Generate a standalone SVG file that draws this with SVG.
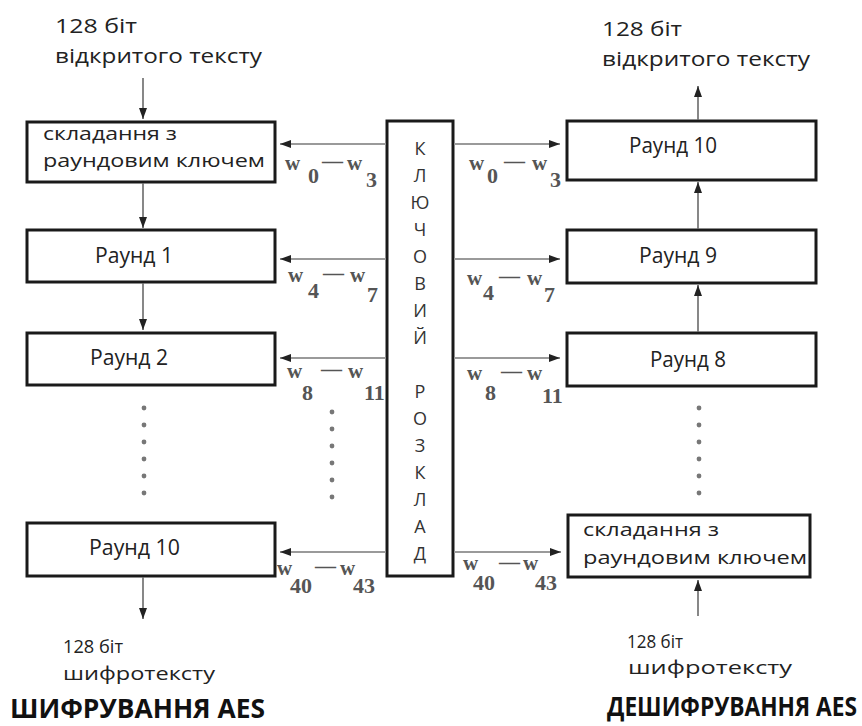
<svg xmlns="http://www.w3.org/2000/svg" width="862" height="726" viewBox="0 0 862 726">
<defs>
<marker id="ah" markerUnits="userSpaceOnUse" markerWidth="11" markerHeight="8" refX="11" refY="4" orient="auto">
<path d="M0,0 L11,4 L0,8 z" fill="#222"/>
</marker>
<style>
.box{fill:#fff;stroke:#1a1a1a;stroke-width:3}
.t{font-family:"Open Sans","Liberation Sans",sans-serif;fill:#222}
.bt{font-family:"Open Sans","Liberation Sans",sans-serif;font-size:21px;fill:#222}
.ttl{font-family:"Open Sans","Liberation Sans",sans-serif;font-weight:bold;font-size:26px;fill:#111}
.ks{font-family:"Open Sans","Liberation Sans",sans-serif;font-size:18px;fill:#333;text-anchor:middle}
.w{font-family:"Liberation Serif",serif;font-weight:bold;font-size:21px;fill:#555}
.wd{font-family:"Liberation Serif",serif;font-weight:bold;font-size:22px;fill:#555}
.hl{stroke:#9a9a9a;stroke-width:2;fill:none;marker-end:url(#ah)}
.vl{stroke:#6a6a6a;stroke-width:1.6;fill:none;marker-end:url(#ah)}
.dot{fill:#777}
</style>
</defs>

<!-- outer labels -->
<g id="labels">
<text class="t" x="55" y="33" font-size="20" textLength="82" lengthAdjust="spacingAndGlyphs">128 біт</text>
<text class="t" x="55" y="63" font-size="20" textLength="207" lengthAdjust="spacingAndGlyphs">відкритого тексту</text>
<text class="t" x="602" y="36" font-size="20" textLength="80" lengthAdjust="spacingAndGlyphs">128 біт</text>
<text class="t" x="602" y="66" font-size="20" textLength="208" lengthAdjust="spacingAndGlyphs">відкритого тексту</text>
<text class="t" x="63" y="653" font-size="18" textLength="60" lengthAdjust="spacingAndGlyphs">128  біт</text>
<text class="t" x="63" y="680" font-size="19" textLength="152" lengthAdjust="spacingAndGlyphs">шифротексту</text>
<text class="t" x="627" y="648" font-size="18" textLength="56" lengthAdjust="spacingAndGlyphs">128  біт</text>
<text class="t" x="628" y="674" font-size="19" textLength="164" lengthAdjust="spacingAndGlyphs">шифротексту</text>
<text class="ttl" x="10" y="718" textLength="255" lengthAdjust="spacingAndGlyphs">ШИФРУВАННЯ AES</text>
<text class="ttl" x="857" y="716" font-size="25" text-anchor="end" textLength="250" lengthAdjust="spacingAndGlyphs">ДЕШИФРУВАННЯ AES</text>
</g>

<!-- encryption column -->
<g id="enc-add">
<rect class="box" x="27" y="122" width="248" height="60"/>
<text class="t" x="43" y="140" font-size="19" textLength="134" lengthAdjust="spacingAndGlyphs">складання з</text>
<text class="t" x="43" y="167" font-size="19" textLength="222" lengthAdjust="spacingAndGlyphs">раундовим ключем</text>
</g>
<g id="enc-r1">
<rect class="box" x="27" y="230" width="248" height="52"/>
<text class="bt" x="95" y="263" textLength="78" lengthAdjust="spacingAndGlyphs">Раунд 1</text>
</g>
<g id="enc-r2">
<rect class="box" x="27" y="333" width="248" height="52"/>
<text class="bt" x="90" y="365" textLength="78" lengthAdjust="spacingAndGlyphs">Раунд 2</text>
</g>
<g id="enc-r10">
<rect class="box" x="27" y="523" width="248" height="53"/>
<text class="bt" x="89" y="555" textLength="91" lengthAdjust="spacingAndGlyphs">Раунд 10</text>
</g>

<!-- decryption column -->
<g id="dec-r10">
<rect class="box" x="567" y="121" width="249" height="59"/>
<text class="bt" x="629" y="153" textLength="88" lengthAdjust="spacingAndGlyphs">Раунд 10</text>
</g>
<g id="dec-r9">
<rect class="box" x="567" y="230" width="249" height="53"/>
<text class="bt" x="639" y="263" textLength="78" lengthAdjust="spacingAndGlyphs">Раунд 9</text>
</g>
<g id="dec-r8">
<rect class="box" x="567" y="333" width="249" height="53"/>
<text class="bt" x="650" y="367" textLength="76" lengthAdjust="spacingAndGlyphs">Раунд 8</text>
</g>
<g id="dec-add">
<rect class="box" x="568" y="515" width="242" height="62"/>
<text class="t" x="583" y="536" font-size="19" textLength="136" lengthAdjust="spacingAndGlyphs">складання з</text>
<text class="t" x="583" y="564" font-size="19" textLength="224" lengthAdjust="spacingAndGlyphs">раундовим ключем</text>
</g>

<!-- key schedule -->
<g id="key-schedule">
<rect class="box" x="387" y="121" width="66" height="455"/>
<text class="ks" x="420" y="155">К</text>
<text class="ks" x="420" y="182">Л</text>
<text class="ks" x="420" y="209">Ю</text>
<text class="ks" x="420" y="236">Ч</text>
<text class="ks" x="420" y="263">О</text>
<text class="ks" x="420" y="290">В</text>
<text class="ks" x="420" y="317">И</text>
<text class="ks" x="420" y="344">Й</text>
<text class="ks" x="420" y="398">Р</text>
<text class="ks" x="420" y="425">О</text>
<text class="ks" x="420" y="452">З</text>
<text class="ks" x="420" y="479">К</text>
<text class="ks" x="420" y="506">Л</text>
<text class="ks" x="420" y="533">А</text>
<text class="ks" x="420" y="560">Д</text>
</g>

<!-- connectors -->
<g id="connectors">
<line class="vl" x1="143" y1="78" x2="143" y2="119"/>
<line class="vl" x1="143" y1="183" x2="143" y2="228"/>
<line class="vl" x1="143" y1="283" x2="143" y2="330"/>
<line class="vl" x1="143" y1="577" x2="143" y2="619"/>
<line class="vl" x1="698" y1="120" x2="698" y2="86"/>
<line class="vl" x1="698" y1="229" x2="698" y2="182"/>
<line class="vl" x1="698" y1="332" x2="698" y2="285"/>
<line class="vl" x1="698" y1="616" x2="698" y2="580"/>

<line class="hl" x1="386" y1="144" x2="280" y2="144"/>
<line class="hl" x1="386" y1="259" x2="280" y2="259"/>
<line class="hl" x1="386" y1="358" x2="280" y2="358"/>
<line class="hl" x1="386" y1="552" x2="280" y2="552"/>
<line class="hl" x1="454" y1="144" x2="560" y2="144"/>
<line class="hl" x1="454" y1="259" x2="560" y2="259"/>
<line class="hl" x1="454" y1="358" x2="560" y2="358"/>
<line class="hl" x1="454" y1="552" x2="561" y2="552"/>

<circle class="dot" cx="144" cy="408" r="2.4"/>
<circle class="dot" cx="144" cy="425" r="2.4"/>
<circle class="dot" cx="144" cy="442" r="2.4"/>
<circle class="dot" cx="144" cy="459" r="2.4"/>
<circle class="dot" cx="144" cy="476" r="2.4"/>
<circle class="dot" cx="144" cy="493" r="2.4"/>
<circle class="dot" cx="332" cy="412" r="2.4"/>
<circle class="dot" cx="332" cy="429" r="2.4"/>
<circle class="dot" cx="332" cy="446" r="2.4"/>
<circle class="dot" cx="332" cy="463" r="2.4"/>
<circle class="dot" cx="332" cy="480" r="2.4"/>
<circle class="dot" cx="332" cy="497" r="2.4"/>
<circle class="dot" cx="699" cy="408" r="2.4"/>
<circle class="dot" cx="699" cy="425" r="2.4"/>
<circle class="dot" cx="699" cy="442" r="2.4"/>
<circle class="dot" cx="699" cy="459" r="2.4"/>
<circle class="dot" cx="699" cy="476" r="2.4"/>
<circle class="dot" cx="699" cy="493" r="2.4"/>
</g>

<!-- round-key labels -->
<g id="key-labels">
<text class="w" x="285" y="170">w</text><text class="wd" x="308" y="183">0</text><text class="w" x="322" y="168">—</text><text class="w" x="347" y="170">w</text><text class="wd" x="366" y="187">3</text>
<text class="w" x="469" y="170">w</text><text class="wd" x="487" y="183">0</text><text class="w" x="504" y="168">—</text><text class="w" x="532" y="170">w</text><text class="wd" x="550" y="187">3</text>

<text class="w" x="288" y="282">w</text><text class="wd" x="308" y="298">4</text><text class="w" x="323" y="280">—</text><text class="w" x="350" y="282">w</text><text class="wd" x="367" y="302">7</text>
<text class="w" x="467" y="285">w</text><text class="wd" x="483" y="300">4</text><text class="w" x="499" y="283">—</text><text class="w" x="527" y="285">w</text><text class="wd" x="544" y="302">7</text>

<text class="w" x="287" y="378">w</text><text class="wd" x="302" y="400">8</text><text class="w" x="321" y="376">—</text><text class="w" x="348" y="378">w</text><text class="wd" x="364" y="400">11</text>
<text class="w" x="467" y="380">w</text><text class="wd" x="485" y="400">8</text><text class="w" x="501" y="378">—</text><text class="w" x="527" y="380">w</text><text class="wd" x="542" y="403">11</text>

<text class="w" x="277" y="575">w</text><text class="wd" x="290" y="593">40</text><text class="w" x="315" y="573">—</text><text class="w" x="340" y="575">w</text><text class="wd" x="353" y="593">43</text>
<text class="w" x="463" y="570">w</text><text class="wd" x="473" y="590">40</text><text class="w" x="499" y="569">—</text><text class="w" x="523" y="570">w</text><text class="wd" x="535" y="590">43</text>
</g>
</svg>
